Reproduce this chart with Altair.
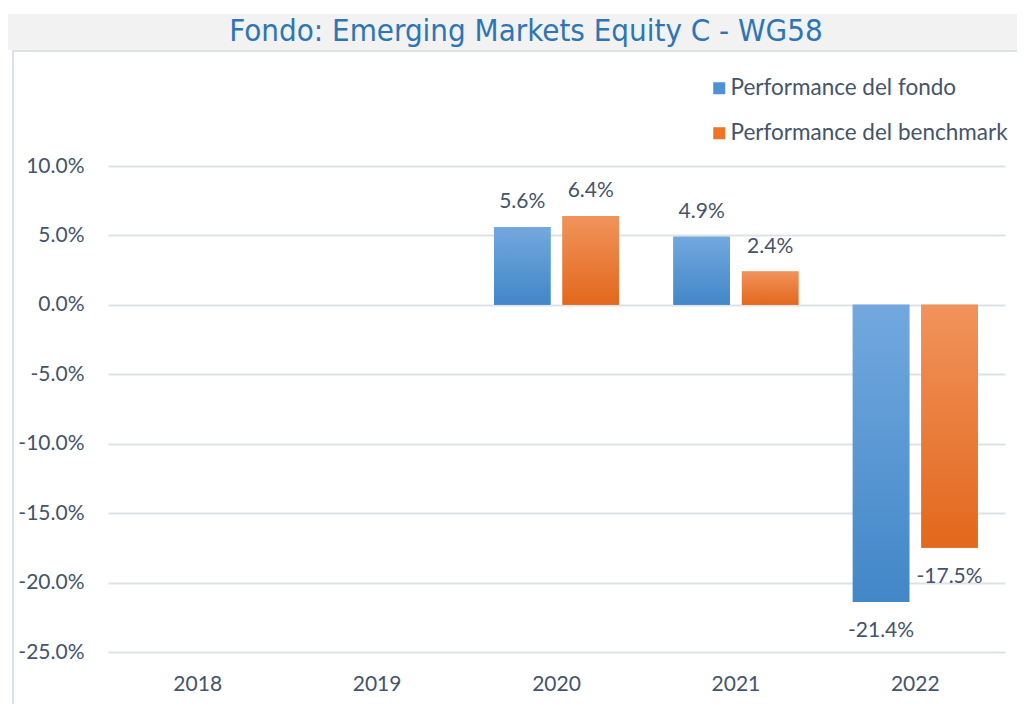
import altair as alt
import pandas as pd

# ---- data ----
years = ["2018", "2019", "2020", "2021", "2022"]
series = ["Performance del fondo", "Performance del benchmark"]
data_years = ["2020", "2021", "2022"]
fondo = [5.6, 4.9, -21.4]
benchmark = [6.4, 2.4, -17.5]
y_ticks = [10, 5, 0, -5, -10, -15, -20, -25]
chart_title = "Fondo: Emerging Markets Equity C - WG58"

rows = []
for yr, f, b in zip(data_years, fondo, benchmark):
    rows.append({"year": yr, "series": series[0], "value": f, "label": f"{f:.1f}%"})
    rows.append({"year": yr, "series": series[1], "value": b, "label": f"{b:.1f}%"})
df = pd.DataFrame(rows)

TEXT = "#44546a"
FONT = "Lato"
FS = 21

x_enc = alt.X("year:N", scale=alt.Scale(domain=years, paddingInner=0, paddingOuter=0),
              axis=alt.Axis(title=None, domain=False, ticks=False, labelAngle=0, labelPadding=21,
                            labelFontSize=FS, labelFont=FONT, labelColor=TEXT, grid=False))
xo_enc = alt.XOffset("series:N", scale=alt.Scale(domain=series, paddingInner=0.175, paddingOuter=0.397))
y_enc = alt.Y("value:Q", scale=alt.Scale(domain=[-25, 10], nice=False, zero=False),
              axis=alt.Axis(values=y_ticks, title=None, domain=False, ticks=False, labelPadding=24,
                            labelFontSize=FS, labelFont=FONT, labelColor=TEXT,
                            labelExpr="replace(format(datum.value, '.1f'), '\u2212', '-') + '%'",
                            gridColor="#dde1e8", gridWidth=2))

def grad(top, bottom):
    return alt.LinearGradient(gradient="linear",
                              stops=[alt.GradientStop(color=top, offset=0),
                                     alt.GradientStop(color=bottom, offset=1)],
                              x1=0, x2=0, y1=0, y2=1)

one = pd.DataFrame({"a": [0]})
banner = alt.Chart(one).mark_rect(color="#f2f2f2").encode(
    x=alt.value(-101), x2=alt.value(940), y=alt.value(-152), y2=alt.value(-116))
frame_top = alt.Chart(one).mark_rule(color="#dde2e9", strokeWidth=2).encode(
    x=alt.value(-95), x2=alt.value(940), y=alt.value(-115))
frame_left = alt.Chart(one).mark_rule(color="#dde2e9", strokeWidth=2).encode(
    x=alt.value(-95), y=alt.value(-116), y2=alt.value(600))
title_text = alt.Chart(one).mark_text(
    fontSize=31, font="Liberation Sans Narrow, DejaVu Sans Condensed, sans-serif",
    color="#2e75b6", align="center", baseline="middle").encode(
    x=alt.value(418), y=alt.value(-134), text=alt.value(chart_title))

base = alt.Chart(df)
solid = base.mark_bar().encode(
    x=x_enc, xOffset=xo_enc, y=y_enc,
    color=alt.Color("series:N", scale=alt.Scale(domain=series, range=["#4f91d3", "#ee7526"]),
                    legend=alt.Legend(title=None, orient="none", legendX=600, legendY=-89,
                                      symbolType="square", symbolSize=144, symbolStrokeWidth=0,
                                      labelFontSize=22.5, labelFont=FONT, labelColor=TEXT,
                                      labelOffset=0, rowPadding=22, labelLimit=400)))
blue = base.transform_filter(alt.datum.series == series[0]).mark_bar(
    fill=grad("#72a8de", "#4287c8")).encode(x=x_enc, xOffset=xo_enc, y=y_enc)
orange = base.transform_filter(alt.datum.series == series[1]).mark_bar(
    fill=grad("#f1935c", "#e2681c")).encode(x=x_enc, xOffset=xo_enc, y=y_enc)
pos_text = base.transform_filter(alt.datum.value >= 0).mark_text(
    baseline="bottom", dy=-15, fontSize=FS, font=FONT, color=TEXT).encode(
    x=x_enc, xOffset=xo_enc, y=y_enc, text="label:N")
neg_text = base.transform_filter(alt.datum.value < 0).mark_text(
    baseline="top", dy=18, fontSize=FS, font=FONT, color=TEXT).encode(
    x=x_enc, xOffset=xo_enc, y=y_enc, text="label:N")

chart = alt.layer(banner, frame_top, frame_left, title_text, solid, blue, orange,
                  pos_text, neg_text).properties(
    width=897, height=486,
    autosize=alt.AutoSizeParams(type="none"),
    padding={"left": 100, "top": 158, "right": 12, "bottom": 52},
    background="white",
).configure_view(stroke=None)

chart.save("out.html", embed_options={"renderer": "svg", "actions": False})
